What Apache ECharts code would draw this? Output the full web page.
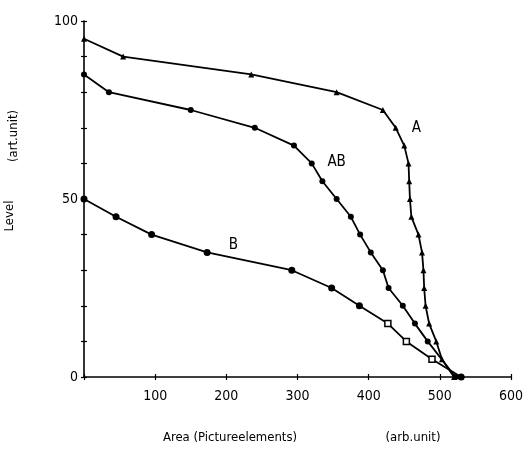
<!DOCTYPE html>
<html lang="en">
<head>
    <meta charset="UTF-8">
    <title>Level vs Area</title>
    <style>
        html, body { margin: 0; padding: 0; background: #fff; }
        #main { width: 526px; height: 451px; }
    </style>
</head>
<body>
    <div id="main"></div>
    <script src="https://cdn.jsdelivr.net/npm/echarts@6/dist/echarts.min.js"></script>
    <script>
        // curve A (triangles)
        var aX = [0, 55, 235, 355, 420, 438, 450, 456, 457, 458, 460, 470, 475, 477, 478, 480, 485, 495, 503, 520];
        var aY = [95, 90, 85, 80, 75, 70, 65, 60, 55, 50, 45, 40, 35, 30, 25, 20, 15, 10, 5, 0];
        // curve AB (dots)
        var abX = [0, 35, 150, 240, 295, 320, 335, 355, 375, 388, 403, 420, 428, 448, 465, 483, 522];
        var abY = [85, 80, 75, 70, 65, 60, 55, 50, 45, 40, 35, 30, 25, 20, 15, 10, 0];
        // curve B (dots, squares at the tail)
        var bX = [0, 45, 95, 173, 292, 348, 387, 427, 453, 489, 530];
        var bY = [50, 45, 40, 35, 30, 25, 20, 15, 10, 5, 0];
        var yLabels = [0, 50, 100];

        var font = "'DejaVu Sans Condensed', 'DejaVu Sans', sans-serif";

        function pairs(xs, ys) {
            return xs.map(function (x, i) { return [x, ys[i]]; });
        }

        var bData = pairs(bX, bY).map(function (p, i) {
            if (i >= 7 && i <= 9) {
                return { value: p, symbol: 'rect', symbolSize: 6,
                         itemStyle: { color: '#fff', borderColor: '#000', borderWidth: 1.5 } };
            }
            return p;
        });

        // curve name written next to the curve
        function labelPoint(name, x, y) {
            return {
                symbol: 'circle', symbolSize: 1,
                itemStyle: { color: 'rgba(0,0,0,0)' },
                data: [{ coord: [x, y] }],
                label: { show: true, formatter: name, color: '#000', fontFamily: font, fontSize: 15, position: 'inside' }
            };
        }

        var tickLine = { color: '#000', width: 1.2 };

        var option = {
            animation: false,
            grid: { left: 84, right: 14, top: 21, bottom: 74 },
            xAxis: [{
                type: 'value', min: 0, max: 600, interval: 100,
                axisLine: { show: true, onZero: false, lineStyle: { color: '#000', width: 1.6 } },
                axisTick: { show: true, length: 3, lineStyle: tickLine },
                splitLine: { show: false },
                axisLabel: {
                    color: '#000', fontFamily: font, fontSize: 14, margin: 12,
                    formatter: function (v) { return v === 0 ? '' : v; }
                }
            }, {
                type: 'value', min: 0, max: 600, interval: 100, position: 'bottom',
                axisLine: { show: false },
                axisTick: { show: true, inside: true, length: 3, lineStyle: tickLine },
                axisLabel: { show: false }, splitLine: { show: false }
            }],
            yAxis: [{
                type: 'value', min: 0, max: 100, interval: 10,
                axisLine: { show: true, onZero: false, lineStyle: { color: '#000', width: 1.6 } },
                axisTick: { show: true, length: 3, lineStyle: tickLine },
                splitLine: { show: false },
                axisLabel: {
                    color: '#000', fontFamily: font, fontSize: 14, margin: 6,
                    formatter: function (v) { return yLabels.indexOf(v) >= 0 ? v : ''; }
                }
            }, {
                type: 'value', min: 0, max: 100, interval: 10, position: 'left',
                axisLine: { show: false },
                axisTick: { show: true, inside: true, length: 3, lineStyle: tickLine },
                axisLabel: { show: false }, splitLine: { show: false }
            }],
            series: [{
                name: 'A', type: 'line', data: pairs(aX, aY),
                symbol: 'triangle', symbolSize: 6, showAllSymbol: true,
                lineStyle: { color: '#000', width: 1.8 }, itemStyle: { color: '#000' },
                markPoint: labelPoint('A', 467, 70)
            }, {
                name: 'AB', type: 'line', data: pairs(abX, abY),
                symbol: 'circle', symbolSize: 6, showAllSymbol: true,
                lineStyle: { color: '#000', width: 1.8 }, itemStyle: { color: '#000' },
                markPoint: labelPoint('AB', 355, 60.5)
            }, {
                name: 'B', type: 'line', data: bData,
                symbol: 'circle', symbolSize: 7, showAllSymbol: true,
                lineStyle: { color: '#000', width: 1.8 }, itemStyle: { color: '#000' },
                markPoint: labelPoint('B', 210, 37)
            }],
            graphic: [
                { type: 'text', x: 10, y: 216, rotation: Math.PI / 2,
                  style: { text: 'Level', fill: '#000', font: '13px ' + font, align: 'center', verticalAlign: 'middle' } },
                { type: 'text', x: 14, y: 136, rotation: Math.PI / 2,
                  style: { text: '(art.unit)', fill: '#000', font: '13px ' + font, align: 'center', verticalAlign: 'middle' } },
                { type: 'text', x: 230, y: 438,
                  style: { text: 'Area (Pictureelements)', fill: '#000', font: '13px ' + font, align: 'center', verticalAlign: 'middle' } },
                { type: 'text', x: 413, y: 438,
                  style: { text: '(arb.unit)', fill: '#000', font: '13px ' + font, align: 'center', verticalAlign: 'middle' } }
            ]
        };

        var chart = echarts.init(document.getElementById('main'));
        chart.setOption(option);
    </script>
</body>
</html>
